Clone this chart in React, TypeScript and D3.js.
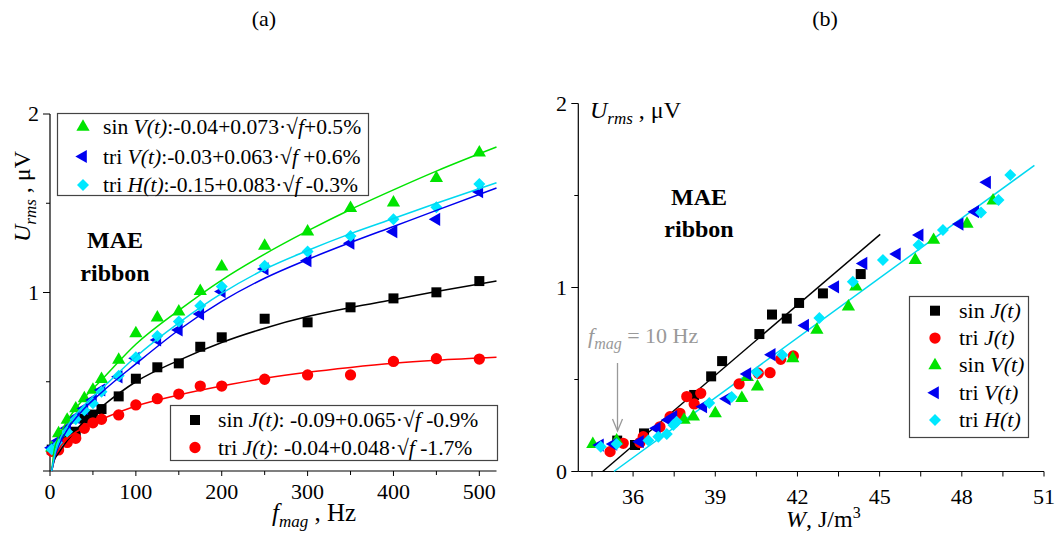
import React from 'react';
import * as d3 from 'd3';

const FONT = "'Liberation Serif', 'Times New Roman', serif";

// ---------- Panel (a): U_rms vs f_mag ----------
const freqA = [2, 10, 20, 30, 40, 50, 60, 80, 100, 125, 150, 175, 200, 250, 300, 350, 400, 450, 500];
const sinJ_A = [0.12, 0.14, 0.18, 0.22, 0.293, 0.316, 0.347, 0.418, 0.517, 0.581, 0.603, 0.696, 0.749, 0.853, 0.833, 0.917, 0.967, 1.001, 1.064];
const triJ_A = [0.11, 0.118, 0.16, 0.183, 0.239, 0.27, 0.29, 0.314, 0.37, 0.405, 0.431, 0.476, 0.476, 0.514, 0.538, 0.538, 0.614, 0.629, 0.627];
const sinV_A = [0.13, 0.21, 0.286, 0.35, 0.407, 0.454, 0.515, 0.622, 0.771, 0.859, 0.893, 1.008, 1.145, 1.261, 1.341, 1.472, 1.503, 1.64, 1.783];
const triV_A = [0.13, 0.17, 0.24, 0.3, 0.35, 0.398, 0.454, 0.528, 0.631, 0.734, 0.79, 0.88, 1.005, 1.132, 1.178, 1.276, 1.341, 1.41, 1.565];
const triH_A = [0.12, 0.15, 0.22, 0.29, 0.34, 0.38, 0.444, 0.534, 0.637, 0.756, 0.837, 0.926, 1.033, 1.15, 1.229, 1.317, 1.41, 1.477, 1.608];

// fitted curves
const fitFreqA = [2, 5, 10, 20, 40, 60, 100, 150, 200, 250, 300, 350, 400, 450, 520];
const fitSinV_A = [0, 0.12, 0.19, 0.28, 0.41, 0.51, 0.71, 0.9, 1.07, 1.215, 1.345, 1.465, 1.575, 1.68, 1.815];
const fitTriH_A = [0, 0.08, 0.16, 0.25, 0.37, 0.46, 0.64, 0.83, 0.995, 1.13, 1.235, 1.33, 1.415, 1.5, 1.615];
const fitTriV_A = [0, 0.07, 0.14, 0.23, 0.35, 0.44, 0.6, 0.79, 0.95, 1.08, 1.185, 1.28, 1.37, 1.46, 1.585];
const fitSinJ_A = [0, 0.06, 0.1, 0.17, 0.28, 0.36, 0.5, 0.62, 0.72, 0.8, 0.865, 0.915, 0.96, 1.005, 1.065];
const fitTriJ_A = [0, 0.07, 0.12, 0.18, 0.245, 0.29, 0.364, 0.426, 0.476, 0.519, 0.553, 0.58, 0.603, 0.62, 0.637];

const xTicksA = [0, 100, 200, 300, 400, 500];
const xMinorA = [50, 150, 250, 350, 450];
const yTicksA = [0, 1, 2];
const yLabelsA = [1, 2];
const yMinorA = [0.5, 1.5];

// ---------- Panel (b): U_rms vs W ----------
const sinJ_W = [35.42, 36.07, 36.4, 38.23, 38.85, 39.25, 40.61, 41.07, 41.61, 42.06, 42.93, 44.31];
const sinJ_U = [0.168, 0.144, 0.207, 0.416, 0.517, 0.6, 0.747, 0.853, 0.831, 0.916, 0.968, 1.073];
const triJ_W = [35.16, 35.64, 36.25, 36.37, 36.98, 37.35, 37.71, 37.96, 38.23, 38.47, 39.87, 40.57, 41.0, 41.39, 41.85];
const triJ_U = [0.108, 0.153, 0.157, 0.189, 0.243, 0.298, 0.316, 0.407, 0.367, 0.425, 0.476, 0.534, 0.537, 0.61, 0.628];
const sinV_W = [34.53, 35.4, 37.86, 38.2, 39.0, 39.97, 40.17, 40.54, 41.83, 42.71, 43.86, 44.13, 46.3, 46.97, 48.19, 49.14];
const sinV_U = [0.149, 0.168, 0.28, 0.298, 0.316, 0.398, 0.512, 0.461, 0.615, 0.769, 0.896, 1.004, 1.149, 1.258, 1.345, 1.472];
const triV_W = [34.79, 35.28, 36.25, 36.86, 37.29, 37.47, 38.56, 39.42, 40.17, 41.06, 42.28, 43.38, 44.41, 45.63, 46.46, 47.92, 48.49, 48.92];
const triV_U = [0.144, 0.149, 0.162, 0.235, 0.28, 0.298, 0.352, 0.395, 0.53, 0.635, 0.794, 1.004, 1.131, 1.182, 1.285, 1.345, 1.412, 1.572];
const triH_W = [34.82, 35.4, 36.56, 36.92, 37.23, 37.47, 37.59, 38.78, 39.6, 40.52, 41.45, 42.8, 44.02, 45.12, 46.42, 47.31, 48.7, 49.34, 49.77];
const triH_U = [0.135, 0.149, 0.168, 0.189, 0.204, 0.253, 0.271, 0.372, 0.405, 0.538, 0.633, 0.834, 1.031, 1.149, 1.231, 1.312, 1.407, 1.476, 1.611];

const fitJ_W = [34.89, 45.02];
const fitJ_U = [0, 1.289];
const fitH_W = [35.3, 50.65];
const fitH_U = [0, 1.664];

const xTicksB = [36, 39, 42, 45, 48, 51];
const xMinorB = [34.5, 37.5, 40.5, 43.5, 46.5, 49.5];
const yTicksB = [0, 1, 2];
const yMinorB = [0.5, 1.5];

const C = {
  black: '#000000',
  red: '#ff0000',
  green: '#00e400',
  blue: '#0000f0',
  cyan: '#00e8ff',
  cyanLine: '#00d8f0',
};

type Shape = 'square' | 'circle' | 'triUp' | 'triLeft' | 'diamond';

const symPath: Record<Shape, string> = {
  square: d3.symbol(d3.symbolSquare, 100)() as string,
  circle: d3.symbol(d3.symbolCircle, 100)() as string,
  triUp: d3.symbol(d3.symbolTriangle, 76)() as string,
  triLeft: d3.symbol(d3.symbolTriangle, 76)() as string,
  diamond: d3.symbol(d3.symbolSquare, 72)() as string,
};
const symRot: Record<Shape, number> = { square: 0, circle: 0, triUp: 0, triLeft: -90, diamond: 45 };

function Marker({ shape, x, y, color }: { shape: Shape; x: number; y: number; color: string }) {
  return <path d={symPath[shape]} transform={`translate(${x},${y}) rotate(${symRot[shape]})`} fill={color} />;
}

export default function App() {
  // Panel (a) scales
  const xA = d3.scaleLinear().domain([0, 520]).range([50, 496.5]);
  const yA = d3.scaleLinear().domain([0, 2]).range([471, 114]);
  // Panel (b) scales
  const xB = d3.scaleLinear().domain([34, 51]).range([578.3, 1044]);
  const yB = d3.scaleLinear().domain([0, 2]).range([471.5, 103.5]);

  const lineA = (vals: number[]) =>
    d3.line<number>().x((_, i) => xA(fitFreqA[i])).y((v) => yA(v)).curve(d3.curveMonotoneX)(vals) as string;
  const lineB = (ws: number[], us: number[]) =>
    d3.line<number>().x((w) => xB(w)).y((_, i) => yB(us[i]))(ws) as string;

  const seriesA: { vals: number[]; shape: Shape; color: string }[] = [
    { vals: sinJ_A, shape: 'square', color: C.black },
    { vals: triJ_A, shape: 'circle', color: C.red },
    { vals: sinV_A, shape: 'triUp', color: C.green },
    { vals: triV_A, shape: 'triLeft', color: C.blue },
    { vals: triH_A, shape: 'diamond', color: C.cyan },
  ];
  const fitsA: { vals: number[]; color: string }[] = [
    { vals: fitSinJ_A, color: C.black },
    { vals: fitTriJ_A, color: C.red },
    { vals: fitSinV_A, color: C.green },
    { vals: fitTriV_A, color: C.blue },
    { vals: fitTriH_A, color: C.cyanLine },
  ];
  const seriesB: { w: number[]; u: number[]; shape: Shape; color: string }[] = [
    { w: sinJ_W, u: sinJ_U, shape: 'square', color: C.black },
    { w: triJ_W, u: triJ_U, shape: 'circle', color: C.red },
    { w: sinV_W, u: sinV_U, shape: 'triUp', color: C.green },
    { w: triV_W, u: triV_U, shape: 'triLeft', color: C.blue },
    { w: triH_W, u: triH_U, shape: 'diamond', color: C.cyan },
  ];

  const tickFont = 22;
  const legFont = 21.6;

  return (
    <svg
      width={1055}
      height={536}
      style={{ position: 'absolute', left: 0, top: 0, background: '#fff' }}
      fontFamily={FONT}
    >
      <rect x={0} y={0} width={1055} height={536} fill="#fff" />
      {/* titles */}
      <text x={264} y={26} fontSize={22} textAnchor="middle">(a)</text>
      <text x={825} y={26} fontSize={22} textAnchor="middle">(b)</text>

      {/* ================= Panel (a) ================= */}
      <g>
        {/* axes */}
        <line x1={50} x2={50} y1={yA(2)} y2={yA(0)} stroke="#000" strokeWidth={1.2} />
        <line x1={50} x2={xA(520)} y1={yA(0)} y2={yA(0)} stroke="#000" strokeWidth={1.2} />
        {xTicksA.map((t) => (
          <g key={'xa' + t}>
            <line x1={xA(t)} x2={xA(t)} y1={yA(0)} y2={yA(0) + 5} stroke="#000" />
            <text x={xA(t)} y={499} fontSize={tickFont} textAnchor="middle">{t}</text>
          </g>
        ))}
        {xMinorA.map((t) => (
          <line key={'xam' + t} x1={xA(t)} x2={xA(t)} y1={yA(0)} y2={yA(0) + 4} stroke="#000" />
        ))}
        {yTicksA.map((t) => (
          <line key={'ya' + t} x1={43} x2={50} y1={yA(t)} y2={yA(t)} stroke="#000" />
        ))}
        {yMinorA.map((t) => (
          <line key={'yam' + t} x1={46} x2={50} y1={yA(t)} y2={yA(t)} stroke="#000" />
        ))}
        {yLabelsA.map((t) => (
          <text key={'yal' + t} x={39} y={yA(t) + 7} fontSize={tickFont} textAnchor="end">{t}</text>
        ))}

        {/* axis labels */}
        <text x={272} y={521} fontSize={25}>
          <tspan fontStyle="italic">f</tspan>
          <tspan fontStyle="italic" fontSize={17} dy={6}>mag</tspan>
          <tspan dy={-6}> , Hz</tspan>
        </text>
        <text transform="translate(30,242) rotate(-90)" fontSize={24}>
          <tspan fontStyle="italic">U</tspan>
          <tspan fontStyle="italic" fontSize={17} dy={6}>rms</tspan>
          <tspan dy={-6}> , μV</tspan>
        </text>

        {/* MAE ribbon */}
        <text x={115} y={248} fontSize={24} fontWeight="bold" textAnchor="middle">MAE</text>
        <text x={115} y={281} fontSize={24} fontWeight="bold" textAnchor="middle">ribbon</text>

        {/* data markers */}
        {seriesA.map((s, si) => (
          <g key={'sa' + si}>
            {s.vals.map((v, i) => (
              <Marker key={i} shape={s.shape} x={xA(freqA[i])} y={yA(v)} color={s.color} />
            ))}
          </g>
        ))}
        {/* fit curves */}
        {fitsA.map((f, i) => (
          <path key={'fa' + i} d={lineA(f.vals)} fill="none" stroke={f.color} strokeWidth={1.5} />
        ))}

        {/* top legend */}
        <rect x={57.5} y={113.5} width={311} height={82} fill="#fff" stroke="#444" strokeWidth={1.2} />
        <Marker shape="triUp" x={83} y={127} color={C.green} />
        <text x={103} y={134} fontSize={legFont}>
          sin <tspan fontStyle="italic">V(t)</tspan>:-0.04+0.073·√<tspan fontStyle="italic">f</tspan>+0.5%
        </text>
        <Marker shape="triLeft" x={83} y={156.5} color={C.blue} />
        <text x={103} y={163.5} fontSize={legFont}>
          tri <tspan fontStyle="italic">V(t)</tspan>:-0.03+0.063·√<tspan fontStyle="italic">f</tspan> +0.6%
        </text>
        <Marker shape="diamond" x={83} y={185} color={C.cyan} />
        <text x={103} y={192} fontSize={legFont}>
          tri <tspan fontStyle="italic">H(t)</tspan>:-0.15+0.083·√<tspan fontStyle="italic">f</tspan> -0.3%
        </text>

        {/* bottom legend */}
        <rect x={170.5} y={405.5} width={327} height={55} fill="#fff" stroke="#444" strokeWidth={1.2} />
        <Marker shape="square" x={195} y={420} color={C.black} />
        <text x={218} y={427} fontSize={legFont}>
          sin <tspan fontStyle="italic">J(t)</tspan>: -0.09+0.065·√<tspan fontStyle="italic">f</tspan> -0.9%
        </text>
        <Marker shape="circle" x={195} y={447.5} color={C.red} />
        <text x={218} y={454.5} fontSize={legFont}>
          tri <tspan fontStyle="italic">J(t)</tspan>: -0.04+0.048·√<tspan fontStyle="italic">f</tspan> -1.7%
        </text>
      </g>

      {/* ================= Panel (b) ================= */}
      <g>
        <line x1={xB(34)} x2={xB(34)} y1={yB(2)} y2={yB(0)} stroke="#000" strokeWidth={1.2} />
        <line x1={xB(34)} x2={xB(51)} y1={yB(0)} y2={yB(0)} stroke="#000" strokeWidth={1.2} />
        {xTicksB.map((t) => (
          <g key={'xb' + t}>
            <line x1={xB(t)} x2={xB(t)} y1={yB(0)} y2={yB(0) + 5} stroke="#000" />
            <text x={xB(t)} y={503.5} fontSize={tickFont} textAnchor="middle">{t}</text>
          </g>
        ))}
        {xMinorB.map((t) => (
          <line key={'xbm' + t} x1={xB(t)} x2={xB(t)} y1={yB(0)} y2={yB(0) + 5} stroke="#000" />
        ))}
        {yTicksB.map((t) => (
          <g key={'yb' + t}>
            <line x1={xB(34) - 7} x2={xB(34)} y1={yB(t)} y2={yB(t)} stroke="#000" />
            <text x={567} y={yB(t) + 7} fontSize={tickFont} textAnchor="end">{t}</text>
          </g>
        ))}
        {yMinorB.map((t) => (
          <line key={'ybm' + t} x1={xB(34) - 4} x2={xB(34)} y1={yB(t)} y2={yB(t)} stroke="#000" />
        ))}

        <text x={590} y={118} fontSize={24}>
          <tspan fontStyle="italic">U</tspan>
          <tspan fontStyle="italic" fontSize={17} dy={6}>rms</tspan>
          <tspan dy={-6}> , μV</tspan>
        </text>
        <text x={786} y={527} fontSize={24}>
          <tspan fontStyle="italic">W</tspan>, J/m<tspan fontSize={16} dy={-9}>3</tspan>
        </text>

        <text x={699} y={205} fontSize={24} fontWeight="bold" textAnchor="middle">MAE</text>
        <text x={699} y={237} fontSize={24} fontWeight="bold" textAnchor="middle">ribbon</text>

        {/* annotation */}
        <text x={588} y={343} fontSize={22} fill="#999">
          <tspan fontStyle="italic">f</tspan>
          <tspan fontStyle="italic" fontSize={16} dy={6}>mag</tspan>
          <tspan dy={-6}> = 10 Hz</tspan>
        </text>
        <line x1={617.5} x2={617.5} y1={363} y2={430} stroke="#999" strokeWidth={1.3} />
        <path d="M612.5,419 L617.5,431 L622.5,419" fill="none" stroke="#999" strokeWidth={1.3} />

        {/* fit lines */}
        <path d={lineB(fitJ_W, fitJ_U)} fill="none" stroke={C.black} strokeWidth={1.5} />
        <path d={lineB(fitH_W, fitH_U)} fill="none" stroke={C.cyanLine} strokeWidth={1.5} />

        {seriesB.map((s, si) => (
          <g key={'sb' + si}>
            {s.w.map((w, i) => (
              <Marker key={i} shape={s.shape} x={xB(w)} y={yB(s.u[i])} color={s.color} />
            ))}
          </g>
        ))}

        {/* legend */}
        <rect x={909.5} y={296.5} width={119} height={141} fill="#fff" stroke="#444" strokeWidth={1.2} />
        {seriesB.map((s, i) => {
          const cy = 310.7 + i * 27.35;
          const names = [['sin ', 'J(t)'], ['tri ', 'J(t)'], ['sin ', 'V(t)'], ['tri ', 'V(t)'], ['tri ', 'H(t)']];
          return (
            <g key={'lb' + i}>
              <Marker shape={s.shape} x={935} y={cy} color={s.color} />
              <text x={959} y={cy + 7} fontSize={22}>
                {names[i][0]}
                <tspan fontStyle="italic">{names[i][1]}</tspan>
              </text>
            </g>
          );
        })}
      </g>
    </svg>
  );
}
